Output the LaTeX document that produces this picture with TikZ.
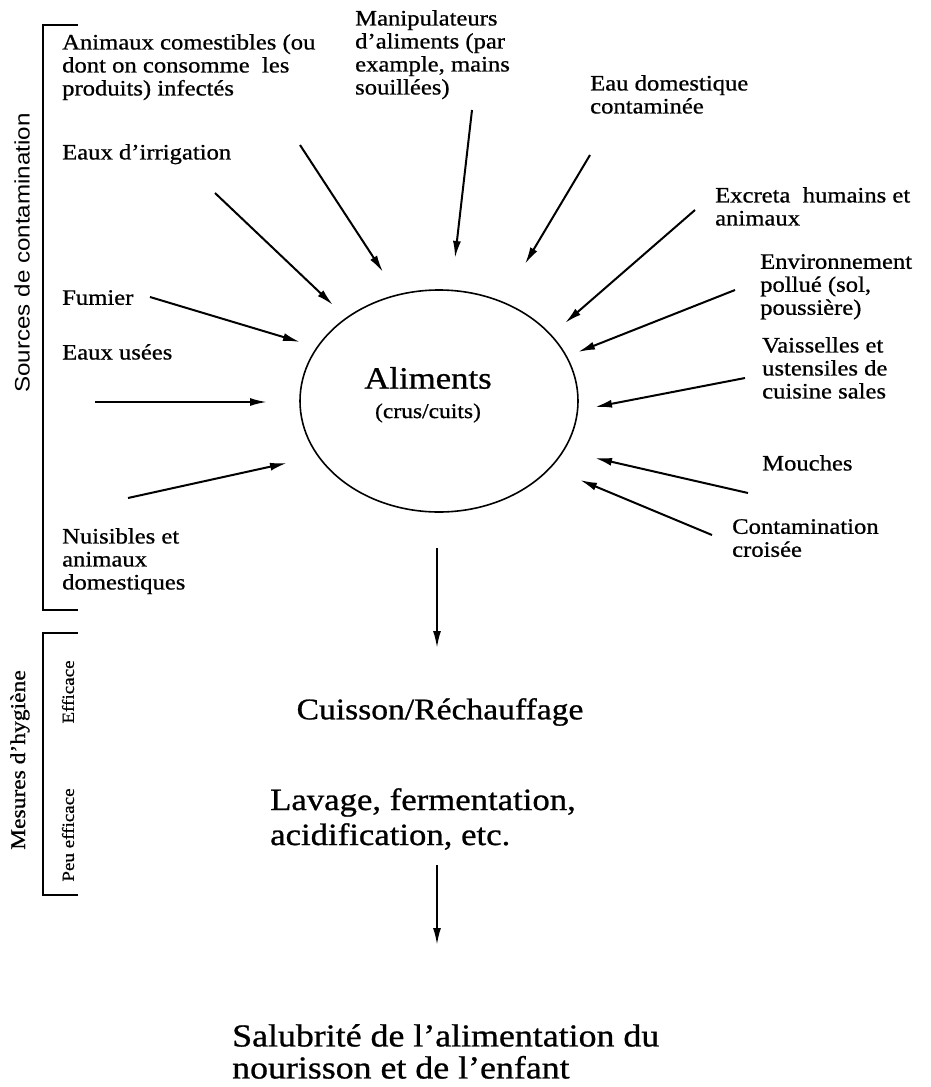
\documentclass[tikz,border=0pt]{standalone}
\usepackage{fontspec}
\setmainfont{Liberation Serif}[FakeStretch=1.12,FakeBold=0.8]
\newfontfamily\sansf{Liberation Sans}[FakeStretch=1.15]
\usetikzlibrary{arrows.meta,shapes.geometric}
\begin{document}
\begin{tikzpicture}[x=1pt,y=-1pt,
  lbl/.style={anchor=north west, inner sep=0pt, align=left, font=\fontsize{22}{23}\selectfont},
  big/.style={inner sep=0pt, align=left, font=\fontsize{31}{35}\selectfont},
  arr/.style={line width=2pt, -{Latex[length=17pt,width=8pt]}},
  brk/.style={line width=2pt},
  side/.style={inner sep=0pt, rotate=90}]
\useasboundingbox (0,0) rectangle (931,1087);

% brackets and side labels
\draw[brk] (78,25) -- (43,25) -- (43,610) -- (78,610);
\draw[brk] (78,633) -- (43,633) -- (43,895) -- (78,895);
\node[side, font=\sansf\fontsize{21}{21}\selectfont] (src) at (22,253) {Sources de contamination};
\node[side, font=\fontsize{21}{21}\selectfont] (mes) at (20,760) {Mesures d'hygiène};
\node[side, font=\fontsize{17}{17}\selectfont] (eff) at (68,692) {Efficace};
\node[side, font=\fontsize{17}{17}\selectfont] (peu) at (68,835) {Peu efficace};

% central ellipse
\node[draw, ellipse, line width=1.6pt, minimum width=278pt, minimum height=222pt] (ell) at (439,401) {};
\node[inner sep=0pt, font=\fontsize{31}{31}\selectfont] (alim) at (428,378) {Aliments};
\node[inner sep=0pt, font=\fontsize{21}{21}\selectfont] (crus) at (428,413) {(crus/cuits)};

% source labels
\node[lbl] (l1) at (62,34) {Animaux comestibles (ou\\dont on consomme\ \ les\\produits) infectés};
\node[lbl] (l2) at (355,10) {Manipulateurs\\d'aliments (par\\example, mains\\souillées)};
\node[lbl] (l3) at (590,75) {Eau domestique\\contaminée};
\node[lbl] (l4) at (62,144) {Eaux d'irrigation};
\node[lbl] (l5) at (715,187) {Excreta\ \ humains et\\animaux};
\node[lbl] (l6) at (760,254) {Environnement\\pollué (sol,\\poussière)};
\node[lbl] (l7) at (62,290) {Fumier};
\node[lbl] (l8) at (62,344) {Eaux usées};
\node[lbl] (l9) at (762,337) {Vaisselles et\\ustensiles de\\cuisine sales};
\node[lbl] (l10) at (762,455) {Mouches};
\node[lbl] (l11) at (732,519) {Contamination\\croisée};
\node[lbl] (l12) at (62,528) {Nuisibles et\\animaux\\domestiques};

% arrow end points
\coordinate (s1) at (300,145); \coordinate (e1) at (383,272);
\coordinate (s2) at (472,110); \coordinate (e2) at (455,258);
\coordinate (s3) at (590,155); \coordinate (e3) at (525,264);
\coordinate (s4) at (215,193); \coordinate (e4) at (333,305);
\coordinate (s5) at (695,210); \coordinate (e5) at (565,323);
\coordinate (s6) at (735,290); \coordinate (e6) at (578,352);
\coordinate (s7) at (150,297); \coordinate (e7) at (300,342);
\coordinate (s8) at (95,402);  \coordinate (e8) at (267,402);
\coordinate (s9) at (745,378); \coordinate (e9) at (595,407);
\coordinate (s10) at (748,493); \coordinate (e10) at (595,458);
\coordinate (s11) at (712,535); \coordinate (e11) at (580,480);
\coordinate (s12) at (128,498); \coordinate (e12) at (287,463);
\foreach \i in {1,...,12} {\draw[arr] (s\i) -- (e\i);}

% lower part
\node[inner sep=0pt, font=\fontsize{30}{30}\selectfont] (cuis) at (440,712) {Cuisson/Réchauffage};
\node[big, anchor=north west] (lav) at (270,788) {Lavage, fermentation,\\acidification, etc.};
\node[inner sep=0pt, anchor=north west, align=left, font=\fontsize{32}{32}\selectfont] (sal) at (232,1024) {Salubrité de l'alimentation du\\nourisson et de l'enfant};

\coordinate (d1) at (437,548); \coordinate (d2) at (437,648);
\draw[arr] (d1) -- (d2);
\coordinate (d3) at (437,865); \coordinate (d4) at (437,945);
\draw[arr] (d3) -- (d4);
\end{tikzpicture}
\end{document}
